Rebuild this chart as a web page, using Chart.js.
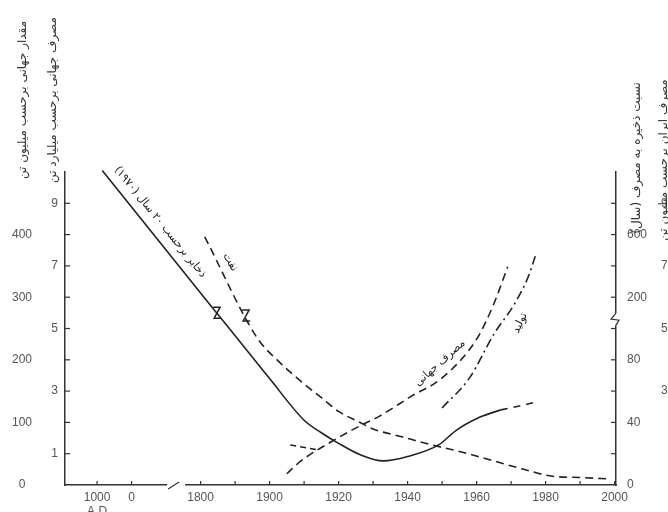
<!DOCTYPE html>
<html><head><meta charset="utf-8">
<script src="https://cdn.jsdelivr.net/npm/chart.js@4/dist/chart.umd.min.js"></script>
<style>html,body{margin:0;padding:0;background:#fff}#wrap{width:668px;height:512px;position:relative}</style>
</head><body><div id="wrap"><canvas id="c"></canvas></div>
<script>
// ---- axis definitions (broken time axis) ----
const axisBreakYears = [-1000, 0, 1800, 1900, 2000];
const axisBreakSlots = [0, 1, 3, 5, 15];
const xTickYears  = [-1000, 0, 1800, 1850, 1900, 1910, 1920, 1930, 1940, 1950, 1960, 1970, 1980, 1990, 2000];
const xTickLabels = [['1000','A.D'], '0', '1800', '', '1900', '', '1920', '', '1940', '', '1960', '', '1980', '', '2000'];

const leftTickValues      = [0,1,2,3,4,5,6,7,8,9];
const leftInnerTickValues = [1,3,5,7,9];
const leftInnerTickLabels = ['1','3','5','7','9'];
const leftOuterTickValues = [0,2,4,6,8];
const leftOuterTickLabels = ['0','100','200','300','400'];
const rightTickValues      = [0,1,2,3,4,5,6,7,8,9];
const rightLabelValues     = [0,2,4,6,8];
const rightLabels          = ['0','40','80','200','600'];
const rightOuterTickValues = [3,5,7,9];
const rightOuterTickLabels = ['3','5','7','9'];

// ---- series (years, values in left inner-axis units) ----
const reserveYears  = [-850, 1818, 1853, 1900, 1910, 1915, 1920, 1926, 1933, 1940, 1949, 1954, 1961, 1967];
const reserveValues = [10.05, 5.64, 4.69, 3.40, 2.07, 1.67, 1.33, 0.98, 0.77, 0.91, 1.28, 1.74, 2.17, 2.40];
const reserveExtYears  = [1967, 1973, 1978];
const reserveExtValues = [2.40, 2.54, 2.67];

const declineYears  = [1806, 1882, 1903, 1909, 1915, 1920, 1926, 1930, 1938, 1947, 1954, 1964, 1973, 1982, 1990, 1999];
const declineValues = [7.93, 4.70, 3.91, 3.32, 2.79, 2.35, 2.01, 1.79, 1.55, 1.28, 1.10, 0.80, 0.52, 0.28, 0.24, 0.19];

const consumptionYears  = [1905, 1909, 1918, 1926, 1932, 1941, 1950, 1960, 1965, 1969];
const consumptionValues = [0.36, 0.76, 1.39, 1.88, 2.21, 2.83, 3.42, 4.66, 5.79, 6.97];

const productionYears  = [1950, 1958, 1965, 1971, 1975, 1977];
const productionValues = [2.46, 3.43, 4.82, 5.79, 6.66, 7.31];

const pointerYears  = [1906, 1914];
const pointerValues = [1.28, 1.12];

// ---- helpers ----
function yearToSlot(y){
  for (let i=0;i<axisBreakYears.length-1;i++){
    const a=axisBreakYears[i], b=axisBreakYears[i+1];
    if (y<=b || i===axisBreakYears.length-2){
      const t=(y-a)/(b-a);
      return axisBreakSlots[i]+t*(axisBreakSlots[i+1]-axisBreakSlots[i]);
    }
  }
}
const INK='#222';
function series(years, vals, dash){
  return {data: years.map((y,i)=>({x:yearToSlot(y), y:vals[i]})), borderColor:INK, borderWidth:1.6,
    borderDash:dash, pointRadius:0, fill:false, cubicInterpolationMode:'monotone', clip:false,
    xAxisID:'x', yAxisID:'yL'};
}
const tickFont={family:'Liberation Sans', size:12};
const tickColor='#555';

const notes = [
  {text:'ذخایر برحسب ۲۰ سال (۱۹۷۰)', x:1.83, y:8.40, angle:51, size:11},
  {text:'نفت', x:3.86, y:7.12, angle:60, size:11},
  {text:'مصرف جهانی', x:9.94, y:3.90, angle:-42, size:11},
  {text:'تولید', x:12.26, y:5.18, angle:-65, size:11}
];
const zMarks = [{x:3.48, y:5.49},{x:4.32, y:5.40}];

const deco = {
  id:'deco',
  afterDraw(chart){
    const ctx=chart.ctx, xs=chart.scales.x, yl=chart.scales.yL, yr=chart.scales.yR;
    const a=chart.chartArea;
    ctx.save();
    ctx.strokeStyle='#333'; ctx.lineWidth=1.2;
    // inward tick marks
    xs.ticks.forEach(t=>{const p=xs.getPixelForValue(t.value); if(p>a.left+2){ctx.beginPath();ctx.moveTo(p,a.bottom);ctx.lineTo(p,a.bottom-4);ctx.stroke();}});
    leftTickValues.forEach(v=>{if(v===0)return;const p=yl.getPixelForValue(v);ctx.beginPath();ctx.moveTo(a.left,p);ctx.lineTo(a.left+5,p);ctx.stroke();});
    rightTickValues.forEach(v=>{if(v===0)return;const p=yr.getPixelForValue(v);ctx.beginPath();ctx.moveTo(a.right,p);ctx.lineTo(a.right-5,p);ctx.stroke();});
    // x-axis break
    const b1=xs.getPixelForValue(2.03), b2=xs.getPixelForValue(2.55);
    ctx.fillStyle='#fff'; ctx.fillRect(b1, a.bottom-3, b2-b1, 6);
    ctx.beginPath(); ctx.moveTo(b1+1, a.bottom+4); ctx.lineTo(b1+12, a.bottom-3); ctx.stroke();
    // right-axis break
    const rb=yr.getPixelForValue(5.3);
    ctx.fillRect(a.right-3, rb-6, 6, 12);
    ctx.beginPath(); ctx.moveTo(a.right, rb-6); ctx.lineTo(a.right-5, rb); ctx.lineTo(a.right+3, rb+1); ctx.lineTo(a.right, rb+6); ctx.stroke();
    // Z break marks on curves
    ctx.lineWidth=1.5; ctx.strokeStyle=INK;
    zMarks.forEach(z=>{const cx=xs.getPixelForValue(z.x), cy=yl.getPixelForValue(z.y);
      ctx.beginPath(); ctx.moveTo(cx-4,cy-6); ctx.lineTo(cx+3,cy-6); ctx.lineTo(cx-3,cy+5); ctx.lineTo(cx+4,cy+5); ctx.stroke();});
    // in-plot labels
    ctx.fillStyle='#222'; ctx.textAlign='center'; ctx.textBaseline='middle'; ctx.direction='rtl';
    notes.forEach(n=>{const cx=xs.getPixelForValue(n.x), cy=yl.getPixelForValue(n.y);
      ctx.save(); ctx.translate(cx,cy); ctx.rotate(n.angle*Math.PI/180);
      ctx.font=n.size+'px "DejaVu Sans"'; ctx.fillText(n.text,0,0); ctx.restore();});
    // axis titles (vertical)
    const titles=[
      {t:'مقدار جهانی برحسب میلیون تن', x:23, y:100},
      {t:'مصرف جهانی برحسب میلیارد تن', x:53, y:100},
      {t:'نسبت ذخیره به مصرف (سال)', x:637, y:158},
      {t:'مصرف ایران برحسب میلیون تن', x:664, y:160}
    ];
    ctx.fillStyle='#333';
    titles.forEach(o=>{ctx.save();ctx.translate(o.x,o.y);ctx.rotate(-Math.PI/2);ctx.font='12px "DejaVu Sans"';ctx.fillText(o.t,0,0);ctx.restore();});
    ctx.restore();
  }
};

function labelFrom(values, labels){ return v => { const i=values.indexOf(v); return i<0?'':labels[i]; }; }

new Chart(document.getElementById('c'), {
  type:'line',
  data:{datasets:[
    series(reserveYears, reserveValues, []),
    series(reserveExtYears, reserveExtValues, [7,6]),
    series(declineYears, declineValues, [8,5]),
    series(consumptionYears, consumptionValues, [8,5]),
    series(productionYears, productionValues, [9,4,2,4]),
    series(pointerYears, pointerValues, [6,4])
  ]},
  options:{
    responsive:true, maintainAspectRatio:false, animation:false,
    layout:{padding:{top:172,left:0,right:0,bottom:0}},
    plugins:{legend:{display:false}, tooltip:{enabled:false}},
    scales:{
      x:{type:'linear', position:'bottom', min:-0.93, max:15.04,
        afterBuildTicks:s=>{s.ticks=xTickYears.map(y=>({value:yearToSlot(y)}));},
        ticks:{autoSkip:false, maxRotation:0, padding:5, font:tickFont, color:tickColor,
          callback:(v,i)=>xTickLabels[i]},
        grid:{display:false, drawTicks:false}, border:{display:true, color:'#333', width:1.5},
        afterFit:s=>{s.height=27;}},
      yL:{type:'linear', position:'left', min:0, max:10, weight:0,
        afterBuildTicks:s=>{s.ticks=leftTickValues.map(v=>({value:v}));},
        ticks:{padding:7, crossAlign:'near', font:tickFont, color:tickColor, callback:labelFrom(leftInnerTickValues,leftInnerTickLabels)},
        grid:{display:false, drawTicks:false}, border:{display:true, color:'#333', width:1.5},
        afterFit:s=>{s.width=21;}},
      yOuter:{type:'linear', position:'left', min:0, max:10, weight:1, display:true,
        afterBuildTicks:s=>{s.ticks=leftOuterTickValues.map(v=>({value:v}));},
        ticks:{padding:12, crossAlign:'center', font:tickFont, color:tickColor, callback:labelFrom(leftOuterTickValues,leftOuterTickLabels)},
        grid:{display:false, drawTicks:false}, border:{display:false},
        afterFit:s=>{s.width=44;}},
      yR:{type:'linear', position:'right', min:0, max:10, weight:0, display:true,
        afterBuildTicks:s=>{s.ticks=rightTickValues.map(v=>({value:v}));},
        ticks:{padding:11, crossAlign:'near', font:tickFont, color:tickColor, callback:labelFrom(rightLabelValues,rightLabels)},
        grid:{display:false, drawTicks:false}, border:{display:true, color:'#333', width:1.5},
        afterFit:s=>{s.width=44;}},
      yR2:{type:'linear', position:'right', min:0, max:10, weight:1, display:true,
        afterBuildTicks:s=>{s.ticks=rightOuterTickValues.map(v=>({value:v}));},
        ticks:{padding:1, crossAlign:'near', font:tickFont, color:tickColor, callback:labelFrom(rightOuterTickValues,rightOuterTickLabels)},
        grid:{display:false, drawTicks:false}, border:{display:false},
        afterFit:s=>{s.width=8;}}
    }
  },
  plugins:[deco]
});
</script></body></html>
